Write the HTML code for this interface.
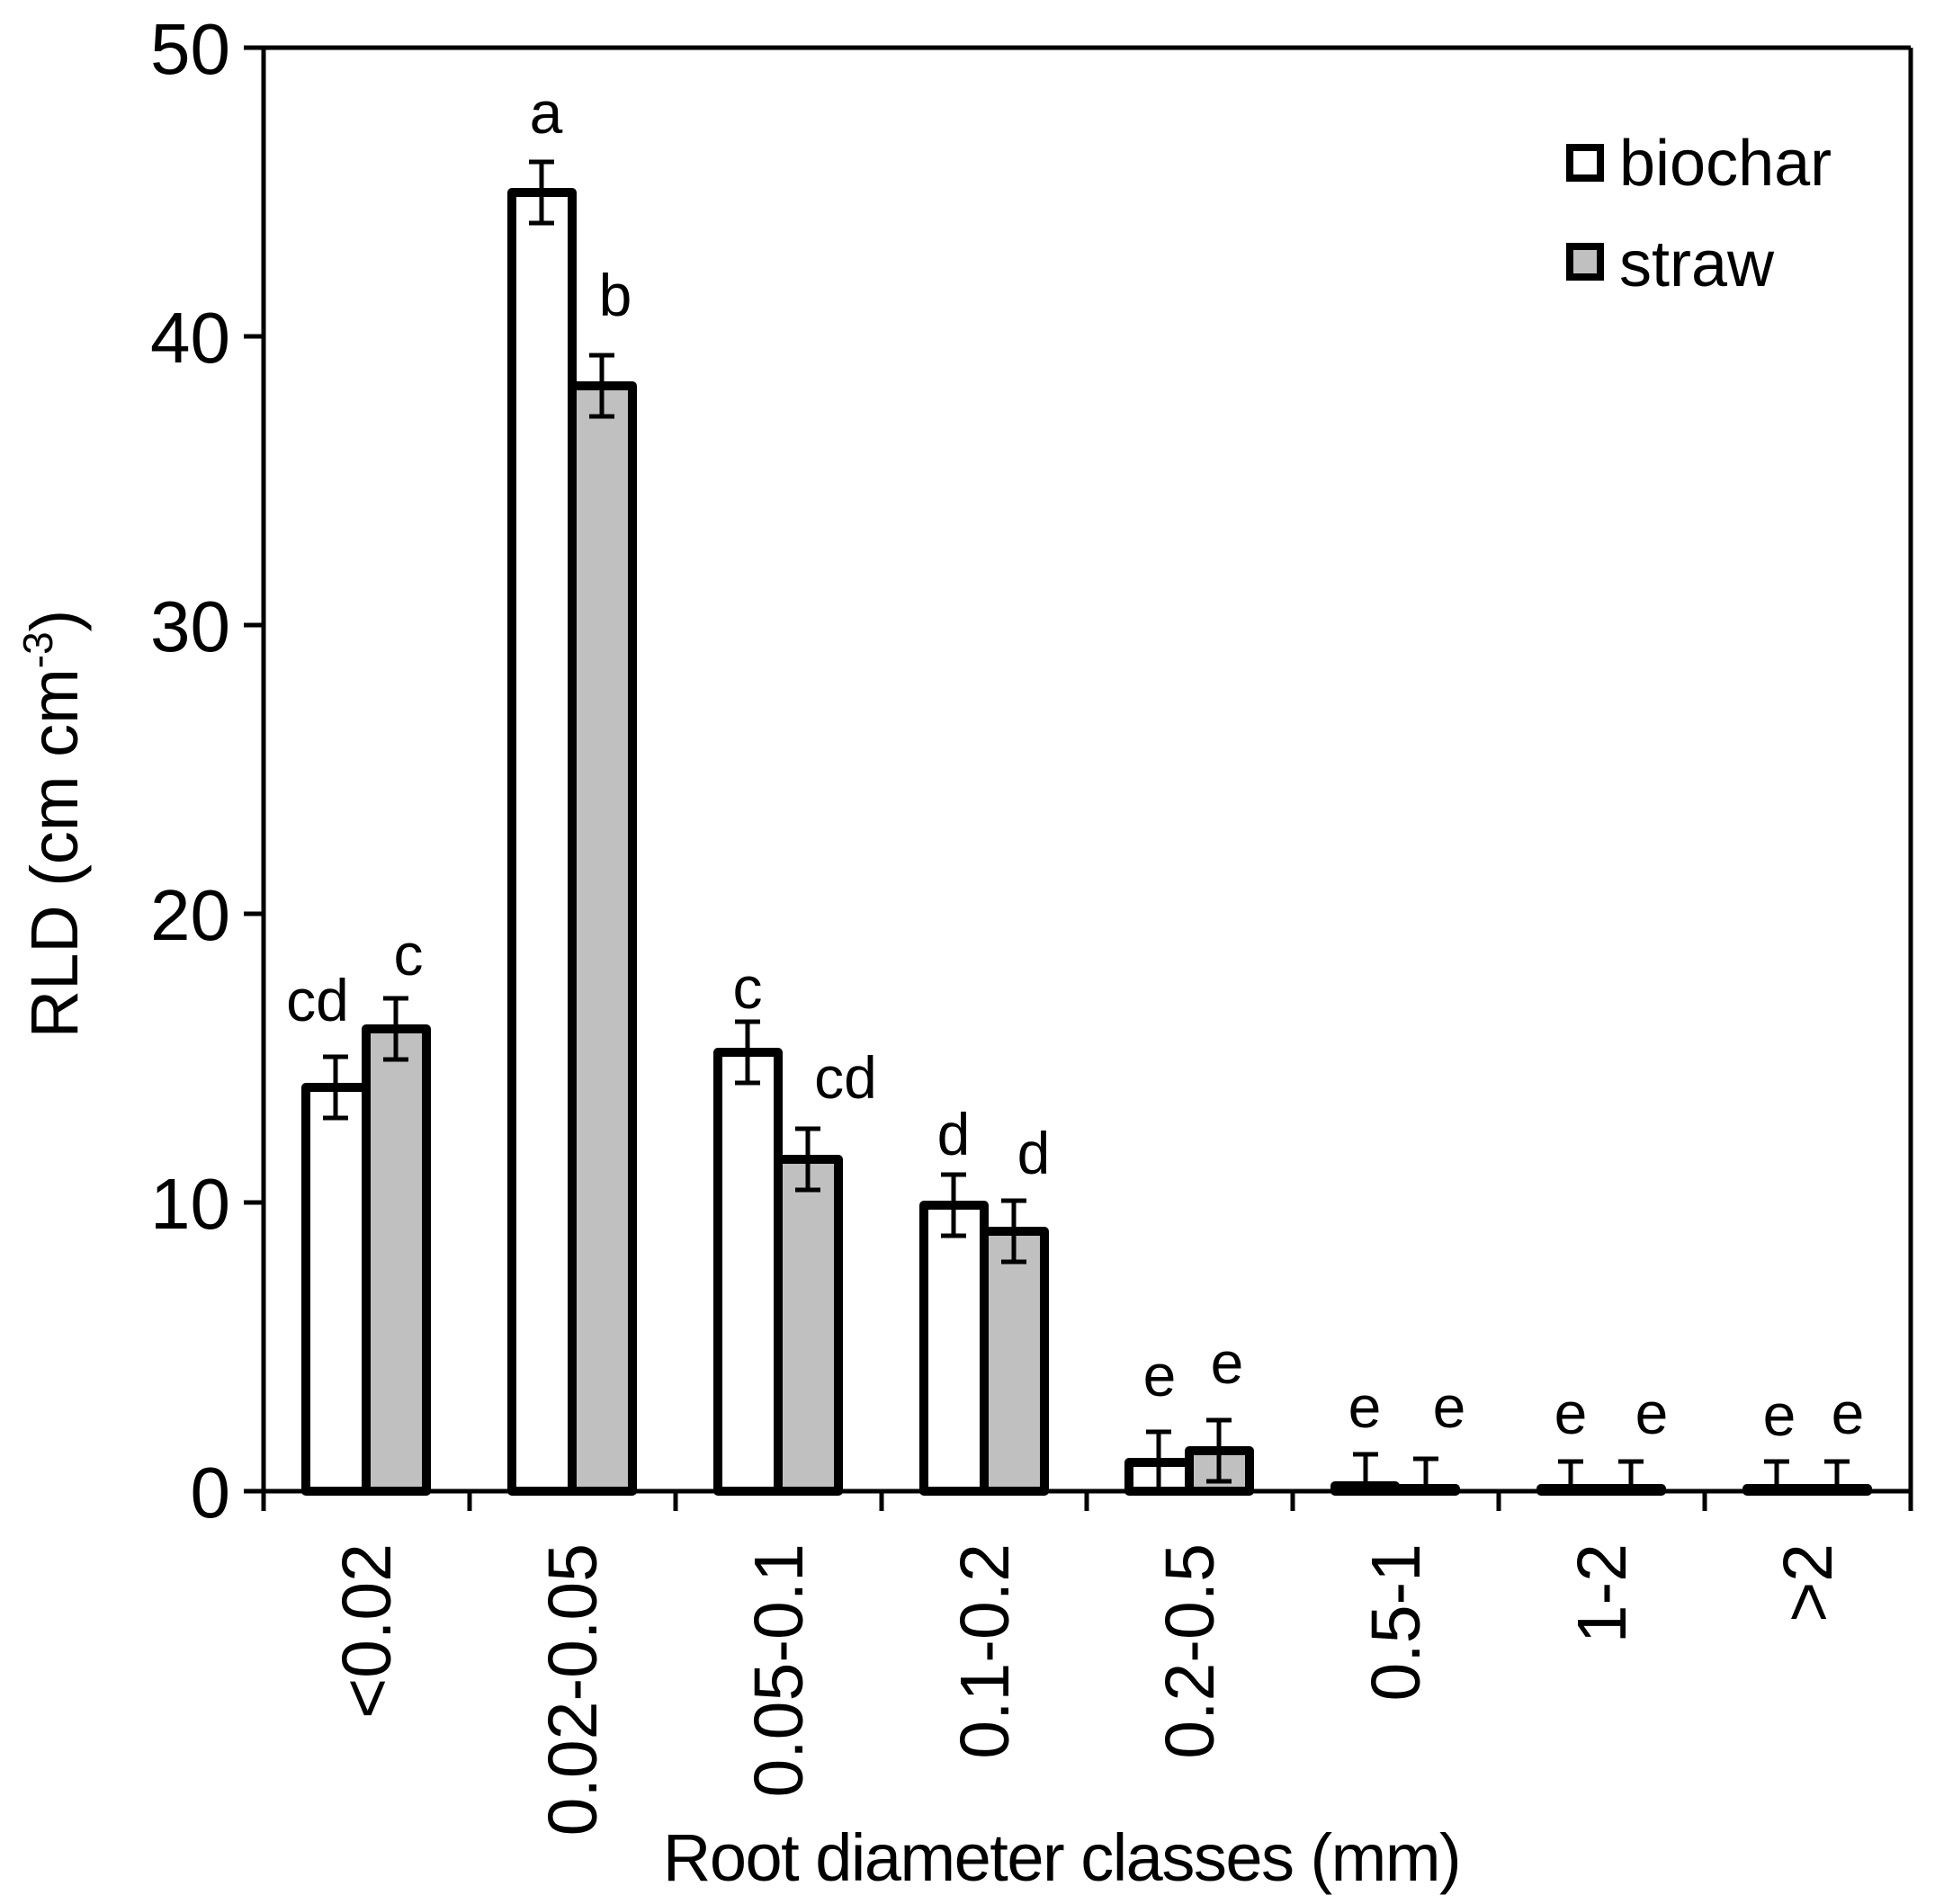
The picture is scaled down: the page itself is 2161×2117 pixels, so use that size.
<!DOCTYPE html>
<html><head><meta charset="utf-8"><style>html,body{margin:0;padding:0;background:#fff}svg{display:block}text{font-family:"Liberation Sans",Arial,sans-serif;fill:#000}</style></head>
<body>
<svg width="2161" height="2117" viewBox="0 0 2161 2117" xmlns="http://www.w3.org/2000/svg">
<rect width="2161" height="2117" fill="#fff"/>
<g stroke="#000" stroke-width="5" fill="none">
<line x1="293" y1="53" x2="293" y2="1658"/>
<line x1="271" y1="53" x2="2124" y2="53"/>
<line x1="2124" y1="53" x2="2124" y2="1680"/>
<line x1="271" y1="1658" x2="2124" y2="1658"/>
<line x1="271" y1="374" x2="293" y2="374"/>
<line x1="271" y1="695" x2="293" y2="695"/>
<line x1="271" y1="1016" x2="293" y2="1016"/>
<line x1="271" y1="1337" x2="293" y2="1337"/>
<line x1="293" y1="1658" x2="293" y2="1680"/>
<line x1="522" y1="1658" x2="522" y2="1680"/>
<line x1="751" y1="1658" x2="751" y2="1680"/>
<line x1="980" y1="1658" x2="980" y2="1680"/>
<line x1="1208" y1="1658" x2="1208" y2="1680"/>
<line x1="1437" y1="1658" x2="1437" y2="1680"/>
<line x1="1666" y1="1658" x2="1666" y2="1680"/>
<line x1="1895" y1="1658" x2="1895" y2="1680"/>
</g>
<g font-size="80" text-anchor="end">
<text x="256" y="82">50</text>
<text x="256" y="403">40</text>
<text x="256" y="724">30</text>
<text x="256" y="1045">20</text>
<text x="256" y="1366">10</text>
<text x="256" y="1687">0</text>
</g>
<g stroke="#000" stroke-width="10" stroke-linejoin="round">
<rect x="340" y="1209" width="67" height="449" fill="#fff"/>
<rect x="407" y="1144" width="67" height="514" fill="#c0c0c0"/>
<rect x="569" y="214" width="67" height="1444" fill="#fff"/>
<rect x="636" y="429" width="67" height="1229" fill="#c0c0c0"/>
<rect x="798" y="1170" width="67" height="488" fill="#fff"/>
<rect x="865" y="1289" width="67" height="369" fill="#c0c0c0"/>
<rect x="1027" y="1340" width="67" height="318" fill="#fff"/>
<rect x="1094" y="1369" width="67" height="289" fill="#c0c0c0"/>
<rect x="1255" y="1626" width="67" height="32" fill="#fff"/>
<rect x="1322" y="1613" width="67" height="45" fill="#c0c0c0"/>
<rect x="1484" y="1652" width="67" height="6" fill="#000"/>
<rect x="1551" y="1655" width="67" height="3" fill="#000"/>
<rect x="1713" y="1655" width="67" height="3" fill="#000"/>
<rect x="1780" y="1655" width="67" height="3" fill="#000"/>
<rect x="1942" y="1655" width="67" height="3" fill="#000"/>
<rect x="2009" y="1655" width="67" height="3" fill="#000"/>
</g>
<g stroke="#000" stroke-width="5" fill="none">
<path d="M373 1175V1243M359 1175H387M359 1243H387"/>
<path d="M440 1110V1178M426 1110H454M426 1178H454"/>
<path d="M602 180V248M588 180H616M588 248H616"/>
<path d="M669 395V463M655 395H683M655 463H683"/>
<path d="M831 1136V1204M817 1136H845M817 1204H845"/>
<path d="M898 1255V1323M884 1255H912M884 1323H912"/>
<path d="M1060 1306V1374M1046 1306H1074M1046 1374H1074"/>
<path d="M1127 1335V1403M1113 1335H1141M1113 1403H1141"/>
<path d="M1288 1592V1658M1274 1592H1302"/>
<path d="M1355 1579V1647M1341 1579H1369M1341 1647H1369"/>
<path d="M1518 1617V1652M1504 1617H1532"/>
<path d="M1585 1622V1655M1571 1622H1599"/>
<path d="M1746 1625V1655M1732 1625H1760"/>
<path d="M1813 1625V1655M1799 1625H1827"/>
<path d="M1975 1625V1655M1961 1625H1989"/>
<path d="M2042 1625V1655M2028 1625H2056"/>
</g>
<g font-size="66" text-anchor="middle">
<text x="353" y="1135">cd</text>
<text x="454" y="1084">c</text>
<text x="607" y="148">a</text>
<text x="684" y="351">b</text>
<text x="831" y="1121">c</text>
<text x="940" y="1221">cd</text>
<text x="1060" y="1284">d</text>
<text x="1149" y="1305">d</text>
<text x="1289" y="1552">e</text>
<text x="1364" y="1538">e</text>
<text x="1517" y="1587">e</text>
<text x="1611" y="1587">e</text>
<text x="1746" y="1594">e</text>
<text x="1836" y="1594">e</text>
<text x="1978" y="1596">e</text>
<text x="2054" y="1594">e</text>
</g>
<g font-size="77" text-anchor="end">
<text transform="translate(434,1716) rotate(-90)">&lt;0.02</text>
<text transform="translate(663,1716) rotate(-90)">0.02-0.05</text>
<text transform="translate(892,1716) rotate(-90)">0.05-0.1</text>
<text transform="translate(1121,1716) rotate(-90)">0.1-0.2</text>
<text transform="translate(1349,1716) rotate(-90)">0.2-0.5</text>
<text transform="translate(1578,1716) rotate(-90)">0.5-1</text>
<text transform="translate(1807,1716) rotate(-90)">1-2</text>
<text transform="translate(2036,1716) rotate(-90)">&gt;2</text>
</g>
<text x="1180" y="2091" font-size="74" text-anchor="middle" letter-spacing="-1.5">Root diameter classes (mm)</text>
<text transform="translate(86,916) rotate(-90)" font-size="74" text-anchor="middle">RLD (cm cm<tspan font-size="46" dy="-28">-3</tspan><tspan dy="28">)</tspan></text>
<rect x="1745" y="164" width="34" height="34" fill="#fff" stroke="#000" stroke-width="8"/>
<rect x="1745" y="274" width="34" height="34" fill="#c0c0c0" stroke="#000" stroke-width="8"/>
<text x="1800" y="206" font-size="72">biochar</text>
<text x="1800" y="318" font-size="72">straw</text>
</svg>
</body></html>
